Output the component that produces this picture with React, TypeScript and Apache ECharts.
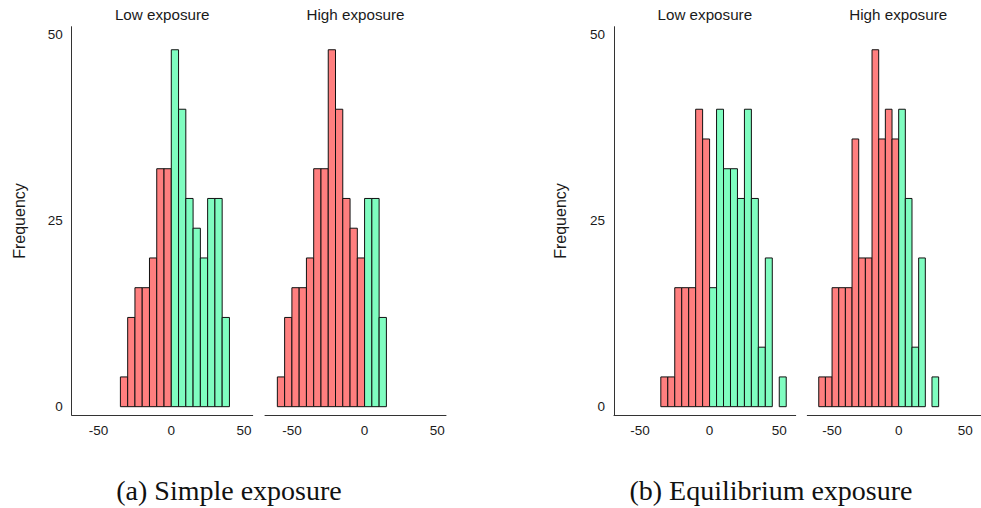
import React, { useEffect, useRef } from "react";
import * as echarts from "echarts";

// Histogram data (bin width 5, counts per bin)
const binWidth = 5;
const simpleLowStart = -35;
const simpleLowCounts = [4, 12, 16, 16, 20, 32, 32, 48, 40, 28, 24, 20, 28, 28, 12];
const simpleHighStart = -60;
const simpleHighCounts = [4, 12, 16, 16, 20, 32, 32, 48, 40, 28, 24, 20, 28, 28, 12];
const equilLowStart = -35;
const equilLowCounts = [4, 4, 16, 16, 16, 40, 36, 16, 40, 32, 32, 28, 40, 28, 8, 20, 0, 4];
const equilHighStart = -60;
const equilHighCounts = [4, 4, 16, 16, 16, 36, 20, 20, 48, 36, 40, 36, 40, 28, 8, 20, 0, 4];

const xTicks = [-50, 0, 50];
const yTicks = [0, 25, 50];
const facetTitles = ["Low exposure", "High exposure"];
const captions = ["(a) Simple exposure", "(b) Equilibrium exposure"];
const yTitle = "Frequency";

const RED = "#FF7F7F";
const GREEN = "#7FFDC0";
const AXIS = "#333333";
const LABEL = "#1a1a1a";
const SANS = "'Liberation Sans', Arial, Helvetica, sans-serif";
const SERIF = "'Liberation Serif', 'Times New Roman', serif";

function toBins(start: number, counts: number[]) {
  const out: number[][] = [];
  counts.forEach((c, i) => {
    if (c > 0) out.push([start + i * binWidth, start + (i + 1) * binWidth, c]);
  });
  return out;
}

export default function App() {
  const ref = useRef<HTMLDivElement>(null);

  useEffect(() => {
    if (!ref.current) return;
    const chart = echarts.init(ref.current, undefined, { renderer: "svg" });

    const grids = [
      { left: 71.7, width: 181, top: 26.7, height: 388.3 },
      { left: 265, width: 181, top: 26.7, height: 388.3 },
      { left: 614, width: 181.7, top: 26.7, height: 388.3 },
      { left: 807.3, width: 181.7, top: 26.7, height: 388.3 },
    ];
    const xRanges = [
      [-68.5, 56],
      [-68.5, 56],
      [-68.6, 61.8],
      [-68.6, 61.8],
    ];
    const datasets = [
      toBins(simpleLowStart, simpleLowCounts),
      toBins(simpleHighStart, simpleHighCounts),
      toBins(equilLowStart, equilLowCounts),
      toBins(equilHighStart, equilHighCounts),
    ];

    const xAxis = grids.map((_, i) => ({
      type: "value",
      gridIndex: i,
      min: xRanges[i][0],
      max: xRanges[i][1],
      splitLine: { show: false },
      axisTick: { show: false },
      axisLine: { show: true, onZero: false, lineStyle: { color: AXIS, width: 1 } },
      axisLabel: {
        customValues: xTicks,
        color: LABEL,
        fontFamily: SANS,
        fontSize: 13.5,
        margin: 8,
        formatter: (v: number) => String(v),
      },
    }));

    const yAxis = grids.map((_, i) => ({
      type: "value",
      gridIndex: i,
      min: -1.12,
      max: 51.1,
      splitLine: { show: false },
      axisTick: { show: false },
      axisLine: { show: i % 2 === 0, onZero: false, lineStyle: { color: AXIS, width: 1 } },
      axisLabel: {
        show: i % 2 === 0,
        customValues: yTicks,
        color: LABEL,
        fontFamily: SANS,
        fontSize: 13.5,
        margin: 9,
        formatter: (v: number) => String(v),
      },
    }));

    const series = datasets.map((d, i) => ({
      type: "custom",
      xAxisIndex: i,
      yAxisIndex: i,
      data: d,
      encode: { x: [0, 1], y: 2 },
      renderItem: (params: any, api: any) => {
        const x0 = api.value(0);
        const x1 = api.value(1);
        const y = api.value(2);
        const p0 = api.coord([x0, y]);
        const p1 = api.coord([x1, 0]);
        return {
          type: "rect",
          shape: { x: p0[0], y: p0[1], width: p1[0] - p0[0], height: p1[1] - p0[1] },
          style: { fill: x0 < 0 ? RED : GREEN, stroke: "#111111", lineWidth: 1 },
        };
      },
    }));

    const titleCenters = [162.2, 355.5, 704.8, 898.2];
    const graphic: any[] = titleCenters.map((cx, i) => ({
      type: "text",
      x: cx,
      y: 14,
      style: {
        text: facetTitles[i % 2],
        fontFamily: SANS,
        fontSize: 15.2,
        fill: LABEL,
        align: "center",
        verticalAlign: "middle",
      },
    }));
    [19, 560].forEach((x) => {
      graphic.push({
        type: "text",
        x,
        y: 221,
        rotation: Math.PI / 2,
        style: {
          text: yTitle,
          fontFamily: SANS,
          fontSize: 16,
          fill: LABEL,
          align: "center",
          verticalAlign: "middle",
        },
      });
    });
    [229, 771].forEach((x, i) => {
      graphic.push({
        type: "text",
        x,
        y: 490,
        style: {
          text: captions[i],
          fontFamily: SERIF,
          fontSize: 28,
          fill: "#111",
          align: "center",
          verticalAlign: "middle",
        },
      });
    });

    chart.setOption({
      animation: false,
      backgroundColor: "#ffffff",
      grid: grids,
      xAxis,
      yAxis,
      series,
      graphic,
    } as any);

    return () => chart.dispose();
  }, []);

  return (
    <div
      ref={ref}
      style={{ position: "fixed", left: 0, top: 0, width: 981, height: 508, background: "#fff" }}
    />
  );
}
